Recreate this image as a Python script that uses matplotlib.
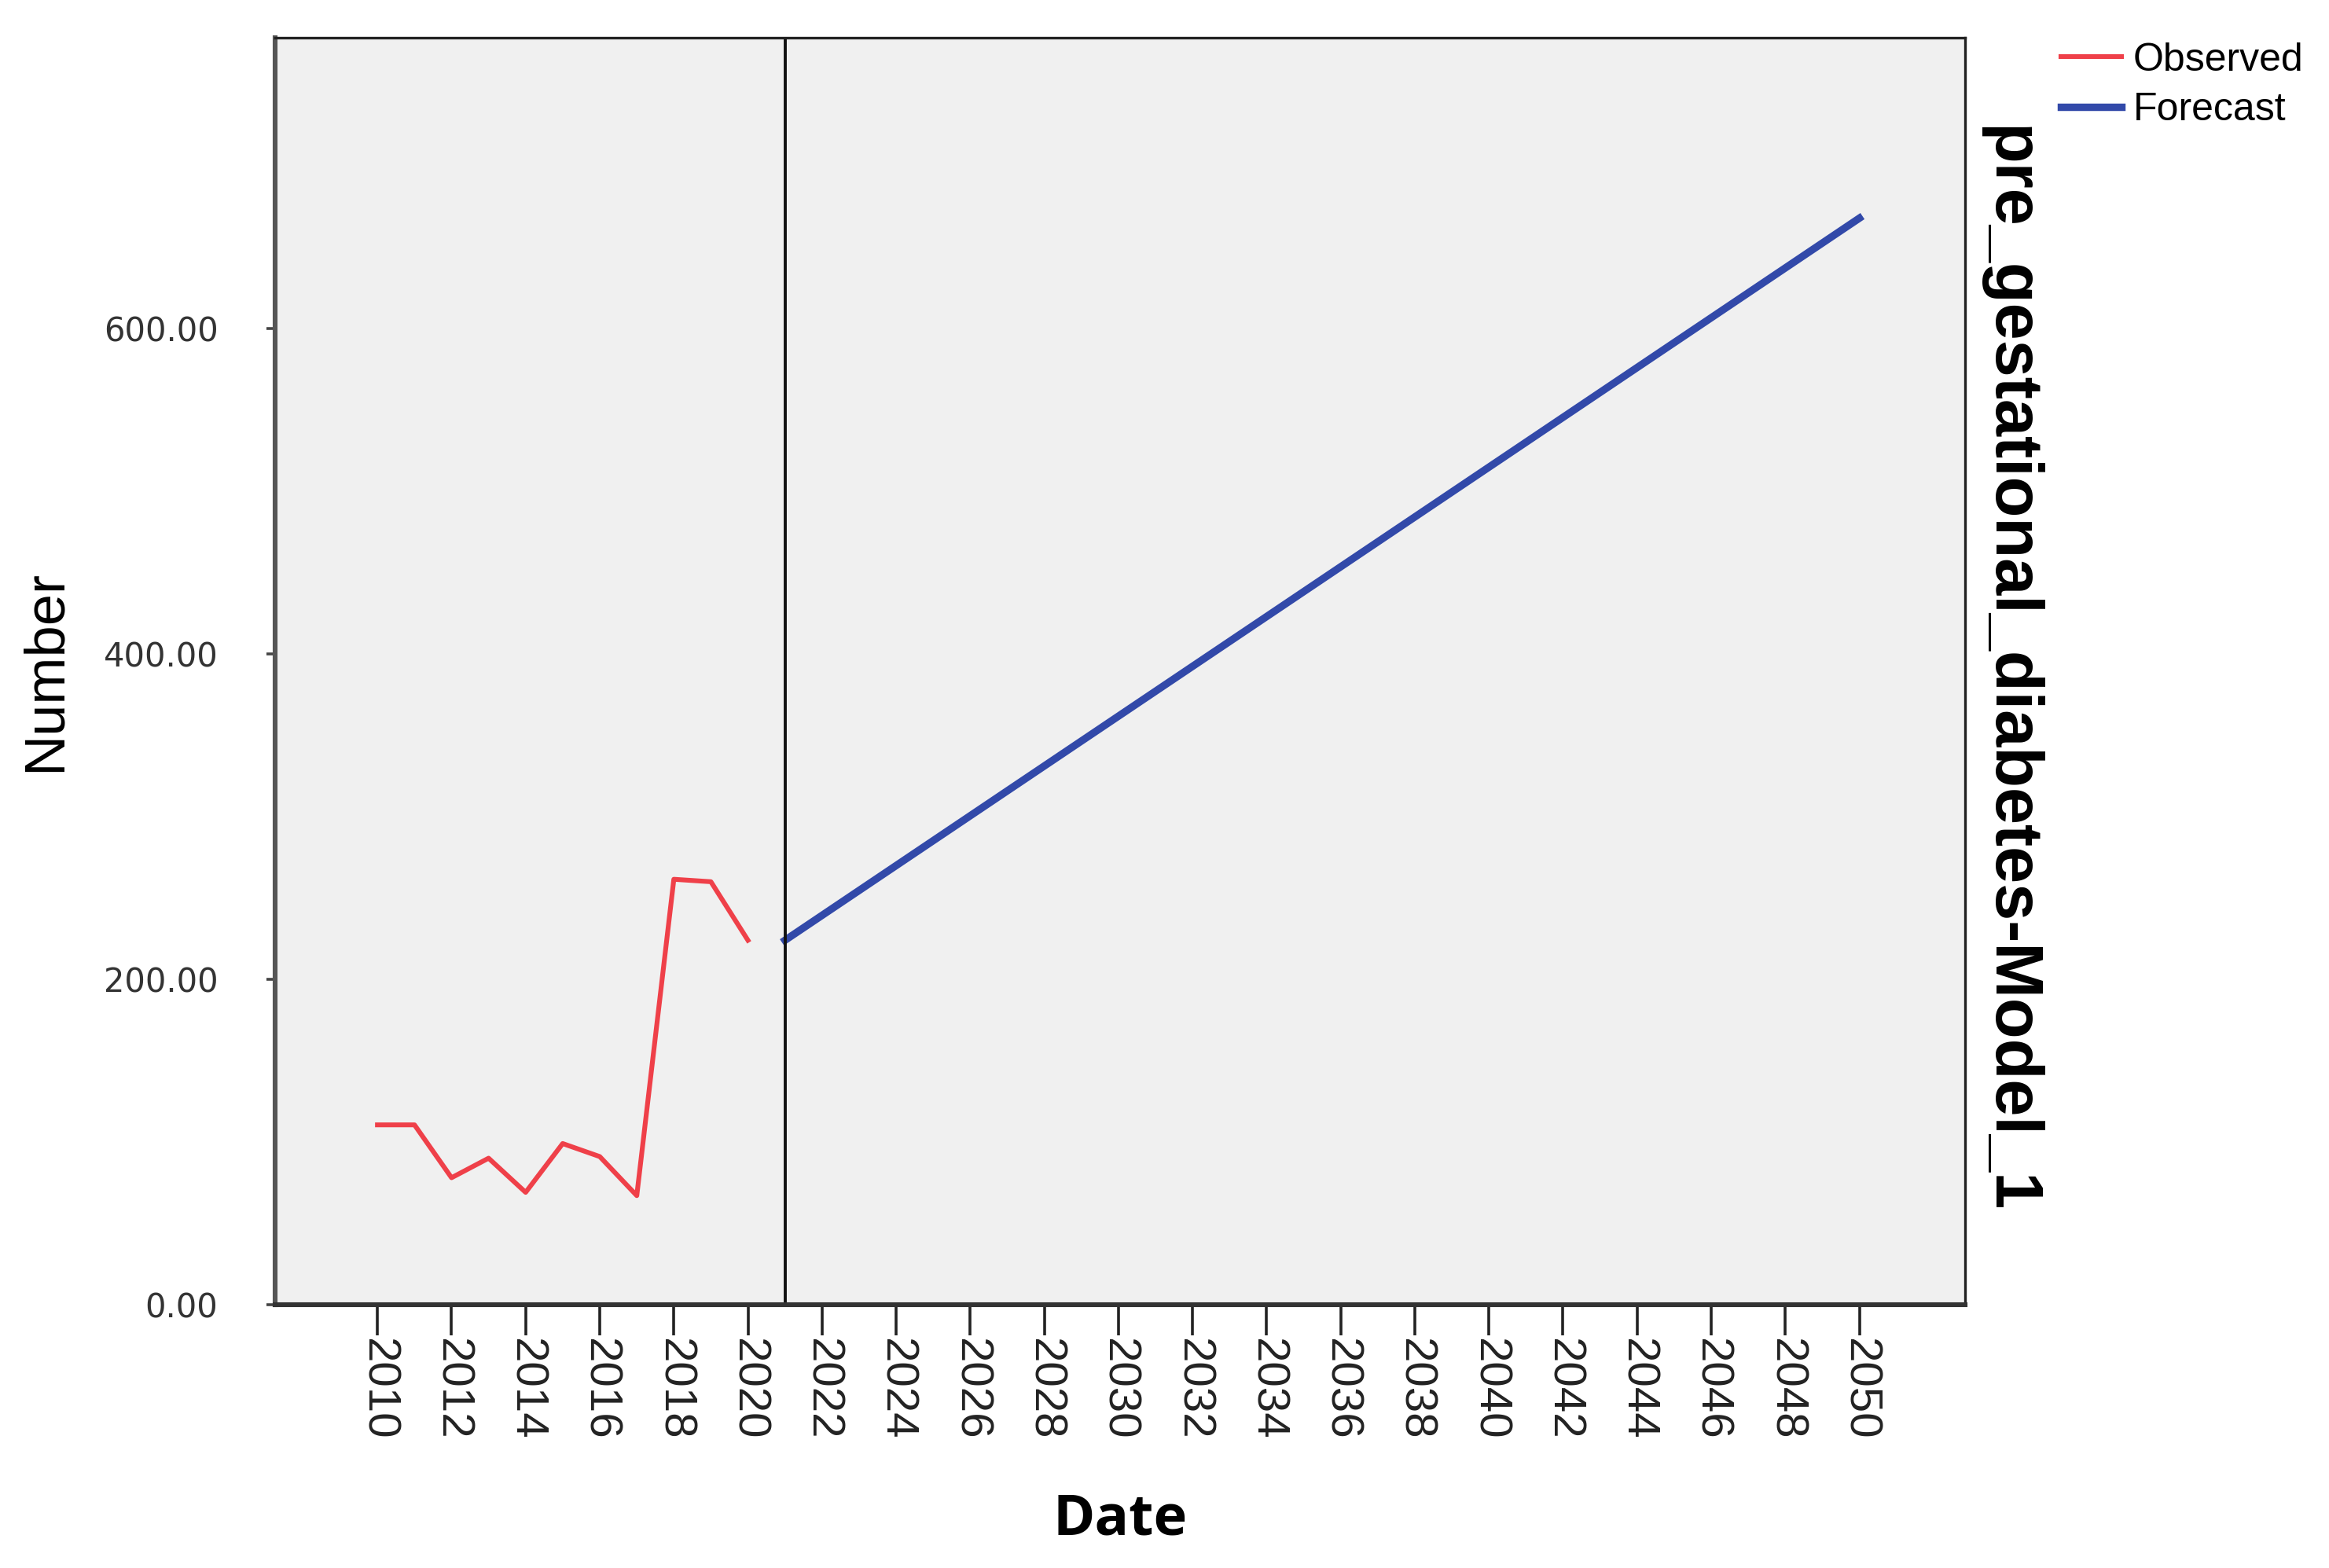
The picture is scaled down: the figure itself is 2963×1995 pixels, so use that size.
import numpy as np
import matplotlib.pyplot as plt

# Observed series and forecast line
obs_years = [2010, 2011, 2012, 2013, 2014, 2015, 2016, 2017, 2018, 2019, 2020]
obs_values = [110.5, 110.5, 78, 90, 69, 99, 91, 67, 261.5, 260, 224]

fc_years = [2021, 2050]
fc_values = [224, 668]

split_year = 2021
xtick_years = list(range(2010, 2051, 2))
ytick_values = [0, 200, 400, 600]

red = '#ef4049'
blue = '#3249a9'

fig = plt.figure(figsize=(2963 / 200, 1995 / 200), dpi=200)
ax = fig.add_axes([0.118, 0.168, 0.7257, 0.808])
ax.set_facecolor('#f0f0f0')

ax.plot(obs_years, obs_values, color=red, lw=2.2, label='Observed')
ax.plot(fc_years, fc_values, color=blue, lw=3.4, label='Forecast')
ax.axvline(split_year, color='#111111', lw=1.4)

ax.set_xlim(2007.23, 2052.85)
ax.set_ylim(0, 779)

ax.set_xticks(xtick_years)
ax.set_xticklabels([str(y) for y in xtick_years], rotation=-90,
                   family='Liberation Sans', fontsize=21, color='#222222')
ax.tick_params(axis='x', length=14, width=1.3, pad=1, color='#222222')

ax.set_yticks(ytick_values)
ax.set_yticklabels(['%.2f' % v for v in ytick_values],
                   family='DejaVu Sans', fontsize=15, color='#333333')
ax.tick_params(axis='y', length=4, width=1.3, pad=22, color='#444444')

for side in ['top', 'right']:
    ax.spines[side].set_linewidth(1.2)
    ax.spines[side].set_color('#222222')
ax.spines['bottom'].set_linewidth(2.2)
ax.spines['bottom'].set_color('#333333')
ax.spines['left'].set_linewidth(2.2)
ax.spines['left'].set_color('#555555')

fig.text(0.5 * (0.118 + 0.8437), 0.031, 'Date', ha='center', va='center',
         family='Open Sans', fontweight='bold', fontsize=26)
fig.text(0.0195, 0.5 * (0.168 + 0.976), 'Number', rotation=90, ha='center', va='center',
         family='Liberation Sans', fontsize=26)
fig.text(0.8625, 0.573, 'pre_gestational_diabetes-Model_1', rotation=-90,
         ha='center', va='center', family='Liberation Sans', fontweight='bold', fontsize=30.5)

fig.legend(loc='upper left', bbox_to_anchor=(0.878, 0.983), frameon=False,
           prop={'family': 'Liberation Sans', 'size': 18}, handlelength=1.55,
           handletextpad=0.3, labelspacing=0.35, borderaxespad=0)

fig.savefig('out.png', dpi=200, facecolor='white')
